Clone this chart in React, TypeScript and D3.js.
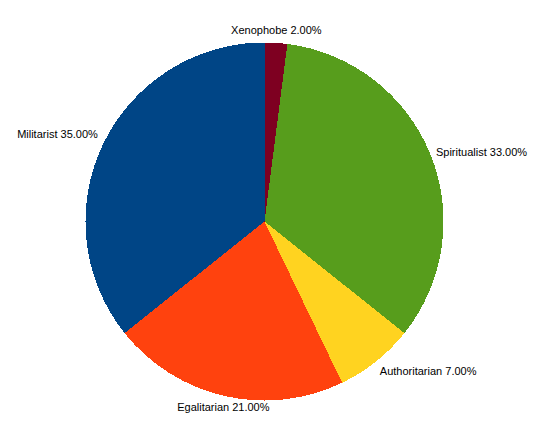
import React from 'react';
import * as d3 from 'd3';

// Slice data, in the order the chart draws them (counter-clockwise from 12 o'clock)
const categories = ['Militarist', 'Egalitarian', 'Authoritarian', 'Spiritualist', 'Xenophobe'];
const values = [35, 21, 7, 33, 2];
const colors = ['#004586', '#ff420e', '#ffd320', '#579d1c', '#7e0021'];

const width = 536;
const height = 430;
const cx = 264.5;
const cy = 221.5;
const radius = 179;
const labelRadius = 185;

interface Slice {
  name: string;
  value: number;
  color: string;
}

const slices: Slice[] = categories.map((name, i) => ({ name, value: values[i], color: colors[i] }));

// 8 sectors of 45 degrees decide how a label sits against its anchor point
const anchors = ['middle', 'start', 'start', 'start', 'middle', 'end', 'end', 'end'];
const dys = ['-0.25em', '-0.25em', '0.35em', '0.8em', '0.8em', '0.8em', '0.35em', '-0.25em'];

export default function App() {
  const pie = d3.pie<Slice>()
    .sort(null)
    .value(d => d.value)
    .startAngle(0)
    .endAngle(-2 * Math.PI);

  const arc = d3.arc<d3.PieArcDatum<Slice>>()
    .innerRadius(0)
    .outerRadius(radius);

  const arcs = pie(slices);

  return (
    <svg
      width={width}
      height={height}
      style={{ position: 'absolute', left: 0, top: 0, background: '#fff' }}
    >
      <g transform={`translate(${cx},${cy})`}>
        {arcs.map(a => (
          <path key={a.data.name} d={arc(a) || ''} fill={a.data.color} shapeRendering="crispEdges" />
        ))}
        {arcs.map(a => {
          const mid = (a.startAngle + a.endAngle) / 2;
          let deg = (mid * 180) / Math.PI;
          deg = ((deg % 360) + 360) % 360;
          const sector = Math.round(deg / 45) % 8;
          const x = labelRadius * Math.sin(mid);
          const y = -labelRadius * Math.cos(mid);
          return (
            <text
              key={'l' + a.data.name}
              x={x}
              y={y}
              dy={dys[sector]}
              textAnchor={anchors[sector]}
              fontFamily="'Liberation Sans', Arial, sans-serif"
              fontSize={11}
              fill="#000"
            >
              {`${a.data.name} ${a.data.value.toFixed(2)}%`}
            </text>
          );
        })}
      </g>
    </svg>
  );
}
